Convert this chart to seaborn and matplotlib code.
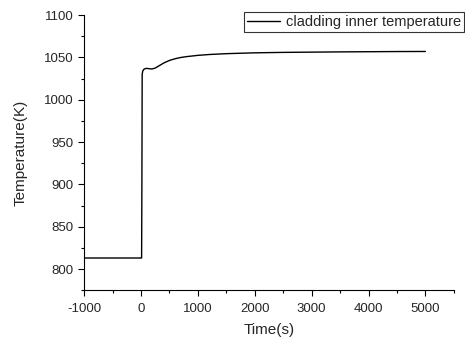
import numpy as np
import pandas as pd
import matplotlib
matplotlib.use("Agg")
import matplotlib.pyplot as plt
import seaborn as sns
from matplotlib.ticker import MultipleLocator

time_s = [-1000, -500, 0, 10, 15, 20, 30, 50, 80, 120, 160, 200, 250, 300, 400, 500, 600, 700, 800, 1000,
          1200, 1500, 2000, 2500, 3000, 3500, 4000, 4500, 5000]
temperature_k = [813, 813, 813, 813, 900, 1030, 1034, 1036, 1037, 1037, 1036.5, 1036.5, 1037.5, 1039.5, 1043.5, 1046.5,
                 1048.5, 1050, 1051, 1052.5, 1053.5, 1054.5, 1055.5, 1056, 1056.3, 1056.6, 1056.8, 1057, 1057.1]

df = pd.DataFrame({"Time(s)": time_s, "Temperature(K)": temperature_k})

sns.set_style("ticks")
plt.rcParams['font.family'] = ['Liberation Sans', 'DejaVu Sans']
plt.rcParams['axes.unicode_minus'] = False

fig = plt.figure(figsize=(4.65, 3.37), dpi=100)
ax = fig.add_axes([0.181, 0.139, 0.795, 0.816])
sns.lineplot(data=df, x="Time(s)", y="Temperature(K)", ax=ax, color="black", linewidth=1.0,
             label="cladding inner temperature")

ax.set_xlim(-1000, 5500)
ax.set_ylim(775, 1100)
ax.xaxis.set_major_locator(MultipleLocator(1000))
ax.xaxis.set_minor_locator(MultipleLocator(500))
ax.yaxis.set_major_locator(MultipleLocator(50))
ax.yaxis.set_minor_locator(MultipleLocator(25))
ax.tick_params(axis="both", which="major", labelsize=9.5, length=4, width=0.8, direction="out", color="black")
ax.tick_params(axis="x", which="major", pad=5)
ax.tick_params(axis="both", which="minor", length=2, width=0.8, direction="out", color="black")
for s in ["left", "bottom"]:
    ax.spines[s].set_color("black")
    ax.spines[s].set_linewidth(0.8)
sns.despine(ax=ax)
ax.set_xlabel("Time(s)", fontsize=11, labelpad=6)
ax.set_ylabel("Temperature(K)", fontsize=11, labelpad=12)

leg = ax.legend(loc="upper right", bbox_to_anchor=(0.998, 0.965), bbox_transform=fig.transFigure,
                frameon=True, fancybox=False, fontsize=10.5, handlelength=2.3, borderpad=0.2,
                handletextpad=0.4, borderaxespad=0)
leg.get_frame().set_edgecolor("black")
leg.get_frame().set_linewidth(0.8)

fig.savefig("out.png", dpi=100)
